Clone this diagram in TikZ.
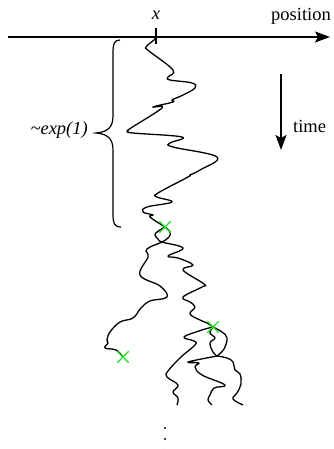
\documentclass[tikz,border=0pt]{standalone}
\usepackage{fontspec}
\setmainfont{Liberation Serif}
\usetikzlibrary{arrows.meta,positioning,shapes.misc}
\definecolor{killgreen}{RGB}{30,225,30}

\begin{document}
\begin{tikzpicture}[
        x=1pt, y=-1pt,
        font=\fontsize{18.5}{20}\selectfont,
        axis/.style={line width=1.3pt, -{Stealth[length=15pt, width=11pt, inset=3pt]}},
        walk/.style={line width=1.3pt, line join=round, smooth, tension=0.65},
        kill/.style={draw=killgreen, cross out, line width=1.3pt,
                     minimum size=10pt, inner sep=0pt},
        lbl/.style={inner sep=0pt}
      ]
      \useasboundingbox (0,0) rectangle (334,449);

      \coordinate (axstart) at (8,37);
      \coordinate (axend) at (330,37);
      \coordinate (start) at (156,37);
      \coordinate (tickup) at (156,28);
      \coordinate (tickdown) at (156,44);
      \coordinate (timetop) at (281,74);
      \coordinate (timeend) at (281,150);
      \coordinate (bracetip) at (96,133);

      \coordinate (cross1) at (165,227);
      \coordinate (cross2) at (123,357);
      \coordinate (cross3) at (213,327);
      \coordinate (join1) at (162,242);
      \coordinate (join2) at (217,356);

      \draw[axis] (axstart) -- (axend);
      \draw[line width=1.2pt] (tickup) -- (tickdown);
      \draw[axis] (timetop) -- (timeend);

      \node[lbl, anchor=base] (xlbl) at (156,20) {\itshape x};
      \node[lbl, anchor=base] (poslbl) at (301,20.5) {position};
      \node[lbl, anchor=base west] (timelbl) at (293,133) {time};
      \node[lbl, anchor=base east] (explbl) at (88,135) {\itshape\textasciitilde exp(1)};

      \draw[line width=1.2pt] (120,40) .. controls (114,40) and (113,44) .. (113,53)
        -- (113,116) .. controls (113,127) and (108,132) .. (bracetip)
        .. controls (108,134) and (113,139) .. (113,150)
        -- (113,214) .. controls (113,223) and (114,227) .. (121,227);

      \draw[walk] plot coordinates {(start) (154,40) (146,47) (149,51) (173,70) (168,77)
        (170,80) (192,83) (195,88) (183,95) (172,100) (173,102) (153,107) (162,108)
        (131,128) (128,131) (133,133) (182,137) (170,143) (173,147) (217,157) (200,170)
        (190,175) (188,177) (158,193) (157,197) (172,202) (147,207) (143,212) (153,215)
        (150,217) (cross1)};
      \draw[walk] plot coordinates {(cross1) (157,232) (155,235) (158,239) (join1)
        (183,248) (168,256) (178,258) (193,265) (183,270) (204,284) (202,287) (183,297)
        (190,302) (195,307) (190,314) (200,320) (207,323) (cross3)};
      \draw[walk] plot coordinates {(cross1) (170,232) (169,237) (join1) (150,247)
        (146,251) (148,257) (140,275) (160,286) (167,297) (150,301) (141,308) (133,318)
        (120,322) (110,332) (107,340) (108,343) (105,348) (116,350) (cross2)};
      \draw[walk] plot coordinates {(cross3) (202,330) (184,337) (194,341) (195,345)
        (181,357) (168,371) (167,377) (178,385) (173,392) (178,398) (177,405)};
      \draw[walk] plot coordinates {(cross3) (210,333) (215,338) (210,343) (213,352) (join2)};
      \draw[walk] plot coordinates {(cross3) (222,332) (227,338) (224,349) (join2)};
      \draw[walk] plot coordinates {(join2) (188,362) (199,363) (195,367) (202,375)
        (225,385) (214,388) (210,395) (208,400) (212,405)};
      \draw[walk] plot coordinates {(join2) (227,358) (233,362) (235,370) (240,374)
        (241,384) (237,393) (233,399) (243,405)};

      \node[kill] (k1) at (cross1) {};
      \node[kill] (k2) at (cross2) {};
      \node[kill] (k3) at (cross3) {};

      \foreach \y in {428,439,450}
        \fill (165,\y) circle (1.2pt);
    \end{tikzpicture}
\end{document}
